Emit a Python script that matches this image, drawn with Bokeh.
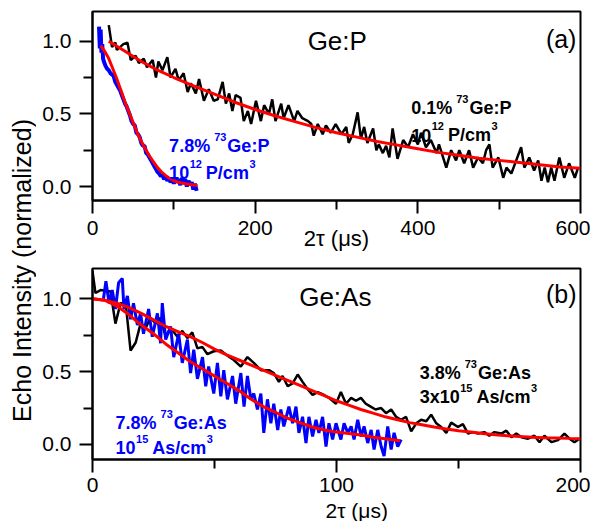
import math
from bokeh.plotting import figure
from bokeh.models import Range1d, FixedTicker, Label
from bokeh.layouts import row, column
from bokeh.embed import file_html
from bokeh.resources import INLINE

FONT = "Liberation Sans"

# ---------------- panel (a): Ge:P ----------------
a_black_x = [20, 24, 28, 30, 38, 43, 47, 53, 57, 63,
             67, 74, 78, 81, 86, 92, 96, 102, 106, 112,
             117, 121, 127, 131, 137, 143, 149, 154, 160, 164,
             168, 172, 176, 182, 186, 191, 195, 201, 207, 211,
             217, 221, 225, 232, 235, 241, 248, 252, 258, 265,
             269, 272, 277, 283, 287, 293, 299, 306, 312, 315,
             320, 326, 330, 334, 338, 345, 349, 352, 357, 361,
             365, 369, 375, 382, 388, 394, 400, 404, 410, 416,
             423, 426, 435, 441, 447, 451, 457, 463, 468, 474,
             480, 484, 488, 492, 499, 505, 509, 515, 521, 527,
             531, 537, 543, 548, 552, 556, 560, 564, 568, 574,
             580, 586, 593, 597]
a_black_y = [1.11, 0.96, 0.99, 0.94, 0.98, 0.99, 0.87, 0.90, 0.85, 0.88,
             0.82, 0.87, 0.75, 0.86, 0.80, 0.89, 0.75, 0.81, 0.73, 0.78,
             0.65, 0.71, 0.64, 0.74, 0.59, 0.67, 0.59, 0.60, 0.72, 0.57,
             0.64, 0.52, 0.63, 0.61, 0.45, 0.52, 0.43, 0.59, 0.45, 0.56,
             0.50, 0.60, 0.45, 0.57, 0.47, 0.56, 0.45, 0.52, 0.47, 0.45,
             0.43, 0.35, 0.43, 0.36, 0.42, 0.37, 0.43, 0.36, 0.41, 0.30,
             0.36, 0.51, 0.33, 0.41, 0.30, 0.40, 0.25, 0.29, 0.23, 0.28,
             0.20, 0.40, 0.19, 0.32, 0.27, 0.36, 0.29, 0.37, 0.27, 0.32,
             0.23, 0.29, 0.13, 0.25, 0.18, 0.25, 0.16, 0.25, 0.13, 0.20,
             0.16, 0.25, 0.29, 0.13, 0.20, 0.06, 0.13, 0.09, 0.18, 0.27,
             0.13, 0.20, 0.11, 0.18, 0.04, 0.13, 0.03, 0.13, 0.04, 0.20,
             0.06, 0.16, 0.06, 0.13]
a_black_fit_x = [20, 40, 60, 80, 100, 125, 150, 175, 200, 225, 250, 275, 300,
                 325, 350, 375, 400, 425, 450, 475, 500, 525, 550, 575, 600]
a_black_fit_y = [1.00, 0.93, 0.86, 0.80, 0.75, 0.69, 0.635, 0.58, 0.53, 0.485,
                 0.445, 0.405, 0.37, 0.34, 0.31, 0.285, 0.26, 0.235, 0.215,
                 0.195, 0.18, 0.165, 0.15, 0.135, 0.125]
a_blue_x = [8, 9, 10, 11, 12, 13, 14, 16, 18, 20,
            22, 24, 26, 28, 30, 32, 34, 36, 38, 40,
            42, 44, 46, 48, 50, 52, 54, 56, 58, 60,
            62, 64, 66, 68, 70, 72, 74, 76, 78, 80,
            82, 84, 86, 88, 90, 92, 94, 96, 98, 100,
            102, 104, 106, 108, 110, 112, 114, 116, 118, 120,
            122, 124, 126, 128]
a_blue_y = [1.10, 0.95, 1.08, 0.92, 0.98, 0.88, 0.86, 0.83, 0.81, 0.80,
            0.78, 0.77, 0.76, 0.72, 0.70, 0.68, 0.66, 0.63, 0.60, 0.57,
            0.55, 0.52, 0.49, 0.45, 0.43, 0.42, 0.37, 0.36, 0.34, 0.30,
            0.28, 0.28, 0.23, 0.22, 0.20, 0.18, 0.16, 0.14, 0.12, 0.10,
            0.09, 0.07, 0.08, 0.05, 0.07, 0.04, 0.06, 0.03, 0.05, 0.02,
            0.06, 0.03, 0.05, 0.01, 0.06, 0.02, 0.05, 0.00, 0.04, 0.01,
            0.03, -0.02, 0.02, -0.03]
a_blue_fit_x = [10, 15, 20, 25, 30, 35, 40, 45, 50, 55, 60, 65, 70, 75, 80,
                85, 90, 95, 100, 105, 110, 115, 120, 125, 129]
a_blue_fit_y = [0.97, 0.93, 0.88, 0.81, 0.74, 0.66, 0.58, 0.51, 0.44, 0.37,
                0.31, 0.26, 0.21, 0.17, 0.13, 0.10, 0.075, 0.055, 0.04, 0.03,
                0.025, 0.018, 0.014, 0.01, 0.007]

# ---------------- panel (b): Ge:As ----------------
b_black_x = [0, 1.2, 3.3, 7.4, 9.4, 11.5, 13.6, 15.6, 17.7, 19.7,
             21.8, 23.8, 25.9, 27.9, 30.0, 32.0, 34.8, 36.8, 38.9, 40.9,
             43.0, 45.0, 47.1, 49.7, 52.6, 55.3, 57.9, 60.8, 63.5, 66.1,
             69.0, 72.3, 74.3, 76.4, 77.9, 80.0, 82.0, 84.1, 86.1, 88.2,
             90.2, 92.3, 94.9, 96.9, 99.8, 101.8, 103.9, 106.0, 108.0, 110.0,
             112.0, 114.0, 116.0, 118.3, 120.3, 122.4, 124.4, 126.5, 128.5, 130.6,
             132.7, 134.7, 136.8, 138.8, 140.9, 142.9, 145.0, 147.0, 149.8, 151.8,
             153.9, 155.9, 158.0, 160.6, 162.6, 164.7, 167.6, 169.6, 171.7, 173.7,
             175.8, 178.5, 181.1, 183.2, 185.2, 188.1, 190.8, 193.4, 195.5, 197.5,
             199.6]
b_black_y = [1.19, 1.04, 1.06, 1.05, 0.83, 0.97, 0.97, 0.645, 0.70, 0.83,
             0.80, 0.87, 0.83, 0.87, 0.74, 0.80, 0.74, 0.78, 0.73, 0.77,
             0.66, 0.67, 0.62, 0.64, 0.645, 0.61, 0.58, 0.535, 0.60, 0.56,
             0.51, 0.51, 0.49, 0.43, 0.47, 0.40, 0.42, 0.48, 0.43, 0.38,
             0.34, 0.36, 0.34, 0.32, 0.28, 0.36, 0.28, 0.32, 0.30, 0.32,
             0.28, 0.26, 0.24, 0.25, 0.215, 0.24, 0.19, 0.17, 0.19, 0.09,
             0.145, 0.17, 0.16, 0.205, 0.145, 0.12, 0.08, 0.15, 0.12, 0.14,
             0.075, 0.085, 0.075, 0.085, 0.06, 0.085, 0.075, 0.095, 0.05, 0.075,
             0.05, 0.04, 0.06, 0.016, 0.06, 0.016, 0.03, 0.075, 0.04, 0.016,
             0.04]
b_black_fit_x = [0, 5, 10, 15, 20, 25, 30, 35, 40, 45, 50, 55, 60, 65, 70, 75,
                 80, 85, 90, 95, 100, 105, 110, 115, 120, 125, 130, 135, 140,
                 145, 150, 155, 160, 165, 170, 175, 180, 185, 190, 195, 200]
b_black_fit_y = [1.0, 0.99, 0.97, 0.94, 0.90, 0.855, 0.81, 0.775, 0.74, 0.70,
                 0.655, 0.615, 0.58, 0.545, 0.51, 0.475, 0.44, 0.405, 0.37,
                 0.335, 0.30, 0.27, 0.24, 0.215, 0.19, 0.17, 0.15, 0.135, 0.12,
                 0.107, 0.095, 0.085, 0.075, 0.067, 0.06, 0.055, 0.05, 0.047,
                 0.045, 0.042, 0.04]
b_blue_x = [4.5, 5.5, 6.8, 8.1, 9.4, 10.7, 12.2, 12.9, 14.3, 15.6,
            16.8, 18.4, 19.7, 20.9, 23.0, 24.5, 26.6, 27.9, 28.6, 30.0,
            32.0, 33.3, 35.3, 36.8, 38.9, 40.2, 41.5, 43.0, 45.1, 46.4,
            47.6, 49.7, 51.2, 52.6, 53.8, 55.3, 57.4, 58.7, 60.8, 62.1,
            63.5, 64.9, 66.1, 67.6, 69.0, 70.2, 71.7, 73.1, 74.3, 75.9,
            77.2, 78.4, 80.5, 82.0, 83.4, 84.6, 86.1, 87.5, 88.7, 90.2,
            91.6, 92.8, 94.3, 95.7, 96.9, 98.4, 99.8, 101.8, 103.1, 104.6,
            106.0, 107.2, 108.7, 110.1, 111.3, 112.8, 114.2, 115.4, 116.9, 118.3,
            119.5, 121.0, 122.4, 123.6, 125.1, 126.5]
b_blue_y = [1.00, 1.12, 0.97, 1.06, 0.93, 1.11, 1.14, 0.93, 1.02, 0.86,
            0.97, 0.82, 0.90, 0.76, 0.93, 0.74, 0.90, 0.695, 0.97, 0.72,
            0.81, 0.60, 0.76, 0.56, 0.72, 0.49, 0.65, 0.45, 0.60, 0.40,
            0.535, 0.35, 0.56, 0.33, 0.51, 0.31, 0.47, 0.28, 0.49, 0.26,
            0.47, 0.31, 0.35, 0.24, 0.35, 0.08, 0.31, 0.146, 0.28, 0.10,
            0.24, 0.124, 0.26, 0.146, 0.26, 0.08, 0.19, 0.01, 0.19, 0.055,
            0.17, 0.08, 0.19, -0.014, 0.146, 0.034, 0.146, 0.034, 0.146, 0.08,
            0.124, 0.034, 0.17, 0.055, 0.124, 0.01, 0.10, -0.034, 0.10, -0.014,
            -0.08, 0.124, -0.034, 0.08, -0.014, 0.034]
b_blue_fit_x = [0, 5, 10, 15, 20, 25, 30, 35, 40, 45, 50, 55, 60, 65, 70, 75,
                80, 85, 90, 95, 100, 105, 110, 115, 120, 126]
b_blue_fit_y = [1.0, 0.99, 0.95, 0.89, 0.82, 0.76, 0.69, 0.63, 0.57, 0.52,
                0.47, 0.42, 0.37, 0.31, 0.26, 0.22, 0.18, 0.15, 0.12, 0.10,
                0.085, 0.075, 0.065, 0.05, 0.04, 0.025]

# ticks and labels
a_xticks = [0, 200, 400, 600]
a_xtick_labels = ["0", "200", "400", "600"]
a_xminor = [100, 300, 500]
b_xticks = [0, 100, 200]
b_xtick_labels = ["0", "100", "200"]
b_xminor = [50, 150]
yticks = [0, 0.5, 1.0]
ytick_labels = ["0.0", "0.5", "1.0"]
yminor = [0.25, 0.75]

x_title = "2\u03c4 (\u03bcs)"
y_title = "Echo Intensity (normalized)"

BLACK = "#000000"
RED = "#ff0000"
BLUE = "#0000ff"

BOLD_W = {'0': .556, '1': .556, '2': .556, '3': .556, '4': .556, '5': .556,
          '6': .556, '7': .556, '8': .556, '9': .556, '.': .278, '%': .889,
          ' ': .278, 'G': .778, 'e': .556, ':': .333, 'P': .667, '/': .278,
          'c': .556, 'm': .889, 'A': .722, 's': .556, 'x': .556}

LEFT_W = 36
PLOT_W = 554
TOP_H = 264
BOT_H = 235
TITLE_H = 22


def rich(p, x, y, segs, color):
    off = 0.0
    for txt, size, rise, gap in segs:
        p.add_layout(Label(x=x, y=y, x_offset=off, y_offset=rise, text=txt,
                           text_font=FONT, text_font_size=f"{size}px",
                           text_font_style="bold", text_color=color,
                           text_align="left", text_baseline="alphabetic"))
        off += sum(BOLD_W.get(c, .556) for c in txt) * size + gap


def make_panel(height, xr, yr, xt, xtl, xm, top_border, bottom_border,
               tick_standoff, lab_standoff, with_label=True):
    p = figure(width=PLOT_W, height=height, x_range=Range1d(*xr), y_range=Range1d(*yr),
               output_backend="svg", toolbar_location=None,
               min_border_left=92 - LEFT_W, min_border_right=10,
               min_border_top=top_border, min_border_bottom=bottom_border)
    p.xgrid.visible = False
    p.ygrid.visible = False
    p.outline_line_color = "black"
    p.outline_line_width = 2
    p.outline_line_alpha = 1
    p.background_fill_color = "white"
    p.border_fill_color = "white"
    p.xaxis.ticker = FixedTicker(ticks=xt, minor_ticks=xm)
    p.xaxis.major_label_overrides = {float(t): l for t, l in zip(xt, xtl)}
    p.yaxis.ticker = FixedTicker(ticks=yticks, minor_ticks=yminor)
    p.yaxis.major_label_overrides = {float(t): l for t, l in zip(yticks, ytick_labels)}
    for ax in p.axis:
        ax.axis_line_width = 2
        ax.axis_line_color = "black"
        ax.major_tick_line_width = 2
        ax.minor_tick_line_width = 2
        ax.major_tick_line_color = "black"
        ax.minor_tick_line_color = "black"
        ax.major_tick_in = 0
        ax.minor_tick_in = 0
        ax.major_tick_out = 13
        ax.minor_tick_out = 9
        ax.major_label_text_font = FONT
        ax.major_label_text_font_size = "21px"
        ax.major_label_text_color = "black"
    p.yaxis.major_label_standoff = 8
    p.xaxis.major_label_standoff = tick_standoff
    if with_label:
        p.xaxis.axis_label = x_title
        p.xaxis.axis_label_text_font = FONT
        p.xaxis.axis_label_text_font_size = "22px"
        p.xaxis.axis_label_text_font_style = "normal"
        p.xaxis.axis_label_text_color = "black"
        p.xaxis.axis_label_standoff = lab_standoff
    return p


# ---- top panel ----
pa = make_panel(TOP_H, (0, 600), (-0.096, 1.204), a_xticks, a_xtick_labels, a_xminor,
                11, 64, 7, -12)
pa.line(a_black_x, a_black_y, line_color=BLACK, line_width=2.5)
pa.line(a_blue_x, a_blue_y, line_color=BLUE, line_width=4)
pa.line(a_black_fit_x, a_black_fit_y, line_color=RED, line_width=3)
pa.line(a_blue_fit_x, a_blue_fit_y, line_color=RED, line_width=3)
pa.add_layout(Label(x=264.5, y=0.998, text="Ge:P", text_font=FONT, text_font_size="26px",
                    text_color="black", text_baseline="alphabetic", text_align="left"))
pa.add_layout(Label(x=595, y=1.012, text="(a)", text_font=FONT, text_font_size="25px",
                    text_color="black", text_baseline="alphabetic", text_align="right"))
rich(pa, 391.8, 0.54, [("0.1%", 18, 0, 4), ("73", 11, 9, 1), ("Ge:P", 18, 0, 0)], BLACK)
rich(pa, 391.8, 0.354, [("10", 18, 0, 0.5), ("12", 11, 9, 4), ("P/cm", 18, 0, 0.5), ("3", 11, 9, 0)], BLACK)
rich(pa, 94.2, 0.279, [("7.8%", 18, 0, 4), ("73", 11, 9, 1), ("Ge:P", 18, 0, 0)], BLUE)
rich(pa, 94.2, 0.096, [("10", 18, 0, 0.5), ("12", 11, 9, 4), ("P/cm", 18, 0, 0.5), ("3", 11, 9, 0)], BLUE)

# ---- bottom panel ----
pb = make_panel(BOT_H, (0, 200), (-0.103, 1.208), b_xticks, b_xtick_labels, b_xminor,
                4, 40, 5, 0, with_label=False)
pb.line(b_black_x, b_black_y, line_color=BLACK, line_width=2.5)
pb.line(b_blue_x, b_blue_y, line_color=BLUE, line_width=3)
pb.line(b_black_fit_x, b_black_fit_y, line_color=RED, line_width=3)
pb.line(b_blue_fit_x, b_blue_fit_y, line_color=RED, line_width=3)
pb.add_layout(Label(x=84.7, y=1.009, text="Ge:As", text_font=FONT, text_font_size="26px",
                    text_color="black", text_baseline="alphabetic", text_align="left"))
pb.add_layout(Label(x=198.4, y=1.03, text="(b)", text_font=FONT, text_font_size="25px",
                    text_color="black", text_baseline="alphabetic", text_align="right"))
rich(pb, 134.1, 0.491, [("3.8%", 18, 0, 4), ("73", 11, 9, 1), ("Ge:As", 18, 0, 0)], BLACK)
rich(pb, 134.1, 0.329, [("3x10", 18, 0, 0.5), ("15", 11, 9, 4), ("As/cm", 18, 0, 0.5), ("3", 11, 9, 0)], BLACK)
rich(pb, 9.45, 0.148, [("7.8%", 18, 0, 4), ("73", 11, 9, 1), ("Ge:As", 18, 0, 0)], BLUE)
rich(pb, 9.45, -0.024, [("10", 18, 0, 0.5), ("15", 11, 9, 4), ("As/cm", 18, 0, 0.5), ("3", 11, 9, 0)], BLUE)

# ---- x title strip under panel (b) ----
pt = figure(width=PLOT_W, height=TITLE_H, x_range=Range1d(0, PLOT_W), y_range=Range1d(0, TITLE_H),
            output_backend="svg", toolbar_location=None, min_border=0,
            x_axis_location=None, y_axis_location=None)
pt.xgrid.visible = False
pt.ygrid.visible = False
pt.outline_line_color = None
pt.add_layout(Label(x=(92 - LEFT_W) + (580 - 92) / 2, y=TITLE_H / 2, text=x_title, text_font=FONT,
                    text_font_size="21px", text_color="black",
                    text_align="center", text_baseline="middle"))

# ---- shared y title ----
total_h = TOP_H + BOT_H + TITLE_H
py = figure(width=LEFT_W, height=total_h, x_range=Range1d(0, LEFT_W), y_range=Range1d(0, total_h),
            output_backend="svg", toolbar_location=None, min_border=0,
            x_axis_location=None, y_axis_location=None)
py.xgrid.visible = False
py.ygrid.visible = False
py.outline_line_color = None
py.add_layout(Label(x=21, y=total_h - 270, text=y_title, angle=math.pi / 2, text_font=FONT,
                    text_font_size="25px", text_color="black",
                    text_align="center", text_baseline="middle"))

layout = row(py, column(pa, pb, pt))
open("out.html", "w").write(file_html(layout, INLINE))
